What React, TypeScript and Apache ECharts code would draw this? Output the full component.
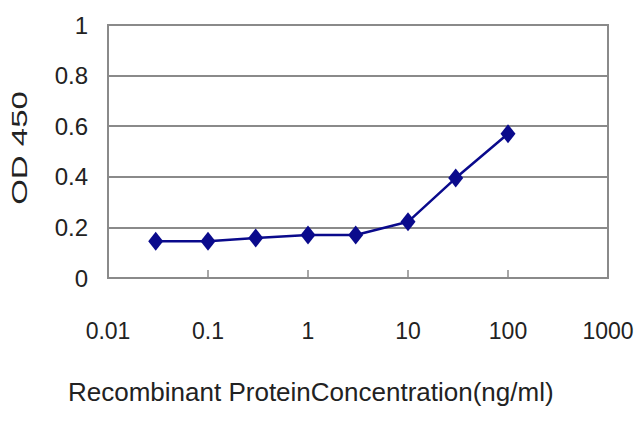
import React, { useEffect, useRef } from "react";
import * as echarts from "echarts";

const concentrations = [0.03, 0.1, 0.3, 1, 3, 10, 30, 100];
const odValues = [0.145, 0.145, 0.158, 0.17, 0.17, 0.222, 0.395, 0.57];
const xTickLabels = ["0.01", "0.1", "1", "10", "100", "1000"];
const yTickLabels = ["0", "0.2", "0.4", "0.6", "0.8", "1"];
const xTitle = "Recombinant ProteinConcentration(ng/ml)";
const yTitle = "OD 450";

const FONT = "'Liberation Sans', Arial, sans-serif";
const TEXT = "#222222";
const GRID = "#8a8a8a";
const NAVY = "#0a0a8c";

export default function App() {
  const ref = useRef<HTMLDivElement>(null);
  useEffect(() => {
    if (!ref.current) return;
    const chart = echarts.init(ref.current, undefined, { renderer: "svg" });
    const fmtX = (v: number) => {
      const i = Math.round(Math.log10(v)) + 2;
      return xTickLabels[i] ?? String(v);
    };
    const fmtY = (v: number) => {
      const i = Math.round(v / 0.2);
      return yTickLabels[i] ?? String(v);
    };
    chart.setOption({
      animation: false,
      backgroundColor: "#ffffff",
      grid: {
        left: 108,
        right: 32,
        top: 25,
        bottom: 149,
        show: true,
        borderColor: GRID,
        borderWidth: 2,
        containLabel: false,
      },
      xAxis: {
        type: "log",
        logBase: 10,
        min: 0.01,
        max: 1000,
        axisLine: { show: true, lineStyle: { color: GRID, width: 2 } },
        axisTick: { show: true, inside: true, length: 8, lineStyle: { color: GRID, width: 1.5 } },
        splitLine: { show: false },
        axisLabel: {
          formatter: fmtX,
          fontFamily: FONT,
          fontSize: 23,
          color: TEXT,
          margin: 41,
        },
      },
      yAxis: {
        type: "value",
        min: 0,
        max: 1,
        interval: 0.2,
        axisLine: { show: true, lineStyle: { color: GRID, width: 2 } },
        axisTick: { show: false },
        splitLine: { show: true, lineStyle: { color: GRID, width: 2 } },
        axisLabel: {
          formatter: fmtY,
          fontFamily: FONT,
          fontSize: 24,
          color: TEXT,
          margin: 20,
        },
      },
      graphic: [
        {
          type: "text",
          x: 68,
          y: 392,
          style: {
            text: xTitle,
            fontFamily: FONT,
            fontSize: 26,
            fill: TEXT,
            align: "left",
            verticalAlign: "middle",
          },
        },
        {
          type: "text",
          x: 20,
          y: 148,
          rotation: Math.PI / 2,
          scaleX: 1.5,
          scaleY: 1,
          style: {
            text: yTitle,
            fontFamily: FONT,
            fontSize: 22,
            fill: TEXT,
            align: "center",
            verticalAlign: "middle",
          },
        },
      ],
      series: [
        {
          type: "line",
          data: concentrations.map((c, i) => [c, odValues[i]]),
          symbol: "diamond",
          symbolSize: [15, 19],
          itemStyle: { color: NAVY },
          lineStyle: { color: NAVY, width: 2.5 },
        },
      ],
    });
    return () => chart.dispose();
  }, []);
  return (
    <div
      ref={ref}
      style={{ position: "absolute", left: 0, top: 0, width: 640, height: 427 }}
    />
  );
}
